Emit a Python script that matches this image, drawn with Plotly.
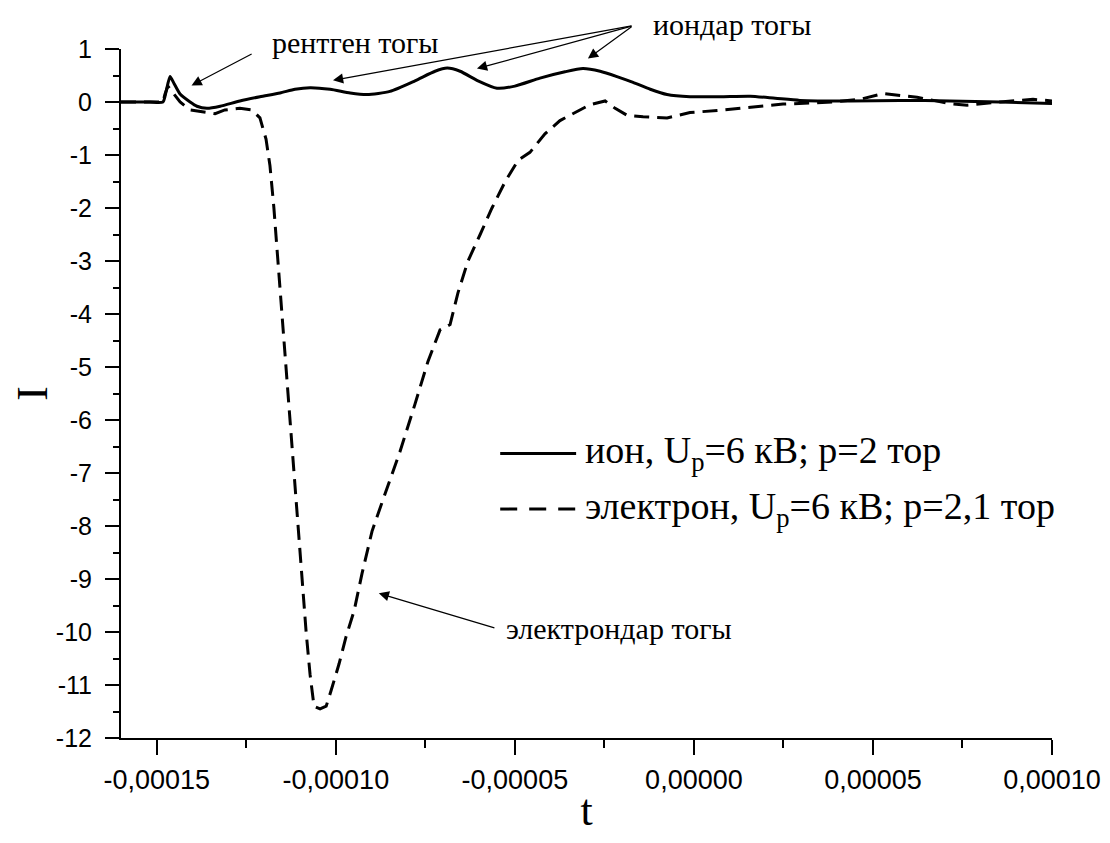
import plotly.graph_objects as go

# ---- data (time in microseconds, converted to seconds) ----
ion_t_us = [-160, -151.9, -148.3, -147.4, -146.3, -145.2, -143.5, -140.7, -138.8, -136.0,
            -132.3, -126.8, -121.2, -115.6, -111.4, -107.2, -101.6, -96.0, -91.3, -84.9,
            -77.9, -72.3, -68.9, -65.3, -60.3, -55.0, -50.0, -43.0, -36.0, -31.0,
            -26.2, -21.5, -17.0, -12.2, -7.5, -1.1, 7.3, 15.7, 22.7, 29.6,
            43.6, 57.6, 71.5, 85.5, 100]
ion_I = [0, 0, 0, 0.2, 0.48, 0.35, 0.15, 0.0, -0.08, -0.12,
         -0.08, 0.02, 0.1, 0.17, 0.24, 0.27, 0.24, 0.17, 0.14, 0.2,
         0.4, 0.58, 0.64, 0.58, 0.4, 0.26, 0.3, 0.45, 0.57, 0.63,
         0.58, 0.48, 0.37, 0.24, 0.14, 0.1, 0.1, 0.11, 0.07, 0.03,
         0.02, 0.03, 0.02, 0.0, -0.03]

el_t_us = [-160, -148.3, -147.7, -146.9, -145.8, -143.5, -140.7, -137.9, -133.7, -131.0,
           -126.8, -123.4, -121.2, -119.5, -118.4, -117.3, -116.2, -115.0, -113.9, -112.8,
           -111.7, -110.6, -109.4, -108.3, -107.2, -106.1, -104.4, -102.7, -101.3, -99.1,
           -97.2, -94.9, -92.7, -89.9, -86.3, -82.1, -77.9, -74.3, -70.9, -68.1,
           -65.9, -63.1, -59.7, -56.4, -52.7, -49.1, -45.8, -41.6, -37.4, -33.2,
           -29.0, -24.8, -22.0, -18.7, -14.2, -7.5, -1.1, 6.5, 15.7, 24.9,
           38.9, 46.4, 52.8, 57.6, 62.3, 71.5, 76.3, 85.5, 94.7, 100]
el_I = [0, 0, 0.15, 0.3, 0.2, 0.0, -0.15, -0.18, -0.22, -0.15,
        -0.12, -0.15, -0.3, -0.7, -1.2, -2.0, -3.0, -4.0, -5.0, -6.0,
        -7.0, -8.0, -9.0, -10.0, -10.8, -11.4, -11.45, -11.4, -11.1, -10.6,
        -10.1, -9.6, -8.9, -8.1, -7.4, -6.6, -5.7, -4.9, -4.3, -4.2,
        -3.6, -3.0, -2.5, -2.0, -1.5, -1.1, -0.95, -0.6, -0.35, -0.2,
        -0.05, 0.02, -0.12, -0.25, -0.28, -0.3, -0.2, -0.16, -0.1, -0.04,
        0.0, 0.05, 0.16, 0.12, 0.09, -0.03, -0.06, 0.0, 0.05, 0.02]

x_tickvals = [-0.00015, -0.00010, -0.00005, 0.0, 0.00005, 0.00010]
x_ticktext = ["-0,00015", "-0,00010", "-0,00005", "0,00000", "0,00005", "0,00010"]
y_tickvals = [1, 0, -1, -2, -3, -4, -5, -6, -7, -8, -9, -10, -11, -12]
y_ticktext = ["1", "0", "-1", "-2", "-3", "-4", "-5", "-6", "-7", "-8", "-9", "-10", "-11", "-12"]

ion_name = "ион, U<sub>p</sub>=6 кВ; p=2 тор"
el_name = "электрон, U<sub>p</sub>=6 кВ; p=2,1 тор"

US = 1e-6
ion_t = [v * US for v in ion_t_us]
el_t = [v * US for v in el_t_us]

SERIF = "Liberation Serif, Times New Roman, serif"
SANS = "Liberation Sans, Arial, sans-serif"

fig = go.Figure()
fig.add_trace(go.Scatter(x=ion_t, y=ion_I, mode="lines", name=ion_name,
                         line=dict(color="black", width=3, shape="spline", smoothing=0.6),
                         showlegend=False))
fig.add_trace(go.Scatter(x=el_t, y=el_I, mode="lines", name=el_name,
                         line=dict(color="black", width=3, dash="15px,8px"),
                         showlegend=False))

# manual legend
leg_x0, leg_x1, leg_tx = -54.1 * US, -32.9 * US, -31.0 * US
leg_y = [-6.63, -7.68]
fig.add_shape(type="line", x0=leg_x0, x1=leg_x1, y0=leg_y[0], y1=leg_y[0],
              line=dict(color="black", width=3))
fig.add_shape(type="line", x0=leg_x0, x1=leg_x1, y0=leg_y[1], y1=leg_y[1],
              line=dict(color="black", width=3, dash="17px,12px"))
for name, yy in zip([ion_name, el_name], leg_y):
    fig.add_annotation(x=leg_tx, y=yy, text=name, showarrow=False, xanchor="left",
                       yanchor="middle", font=dict(family=SERIF, size=38, color="black"))

# text annotations
ann_font = dict(family=SERIF, size=30, color="black")
fig.add_annotation(x=-94.6 * US, y=1.01, yref="paper", yanchor="middle", text="рентген тогы",
                   showarrow=False, font=ann_font)
fig.add_annotation(x=10.6 * US, y=1.035, yref="paper", yanchor="middle", text="иондар тогы",
                   showarrow=False, font=ann_font)
fig.add_annotation(x=-53.0 * US, y=-9.93, text="электрондар тогы", showarrow=False,
                   xanchor="left", font=ann_font)

# arrows
arrows = [
    ((-123.1, 0.92), (-140.3, 0.31)),
    ((-17.0, 1.44), (-100.8, 0.41)),
    ((-17.0, 1.44), (-60.6, 0.63)),
    ((-17.0, 1.44), (-29.6, 0.82)),
    ((-55.3, -9.93), (-88.0, -9.27)),
]
for (tx, ty), (hx, hy) in arrows:
    fig.add_annotation(x=hx * US, y=hy, ax=tx * US, ay=ty, xref="x", yref="y",
                       axref="x", ayref="y", text="", showarrow=True,
                       arrowhead=2, arrowsize=1.7, arrowwidth=1.2, arrowcolor="black")

fig.update_layout(
    width=1102, height=827,
    margin=dict(l=113, r=58, t=41, b=97),
    paper_bgcolor="white", plot_bgcolor="white",
    showlegend=False,
)
fig.update_xaxes(
    range=[-0.00016, 0.0001], showgrid=False, zeroline=False, automargin=False,
    showline=True, linecolor="black", linewidth=2,
    ticks="outside", ticklen=15, tickwidth=2, tickcolor="black",
    tickvals=x_tickvals, ticktext=x_ticktext, ticklabelstandoff=2,
    tickfont=dict(family=SANS, size=27, color="black"),
    minor=dict(ticks="outside", ticklen=8, tickwidth=2, tickcolor="black", dtick=0.000025, showgrid=False),
    title=dict(text="t", font=dict(family=SERIF, size=44, color="black"), standoff=20),
)
fig.update_yaxes(
    range=[-12, 1], showgrid=False, zeroline=False, automargin=False,
    showline=True, linecolor="black", linewidth=2,
    ticks="outside", ticklen=14, tickwidth=2, tickcolor="black",
    tickvals=y_tickvals, ticktext=y_ticktext, ticklabelstandoff=8,
    tickfont=dict(family=SANS, size=25, color="black"),
    minor=dict(ticks="outside", ticklen=6, tickwidth=2, tickcolor="black", dtick=0.5, showgrid=False),
    title=dict(text="I", font=dict(family=SERIF, size=44, color="black"), standoff=14),
)

fig.write_html("out.html")
